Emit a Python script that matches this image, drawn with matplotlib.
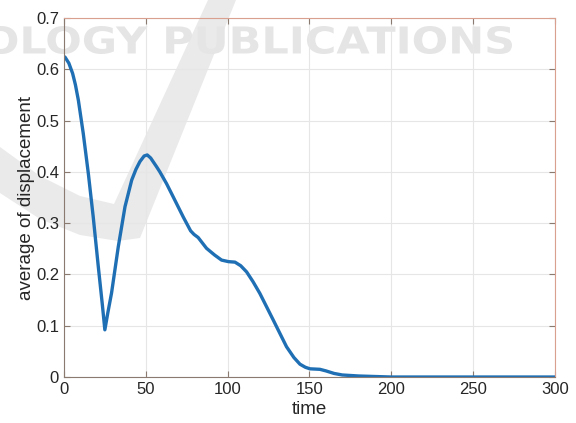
import numpy as np
import matplotlib.pyplot as plt
from matplotlib.patches import Polygon, PathPatch
from matplotlib.textpath import TextPath
from matplotlib.font_manager import FontProperties
from matplotlib.transforms import Affine2D

# curve
time = [0.6, 3.0, 5.3, 7.0, 8.8, 11.8, 14.9, 17.9, 21.0, 23.5, 25.0, 26.8,
        29.1, 33.2, 37.3, 41.4, 44.0, 46.4, 49.0, 50.9, 53.0, 56.6, 58.6,
        62.7, 66.8, 72.9, 77.4, 79.5, 82.0, 87.1, 92.0, 96.3, 100.5, 104.5,
        108.0, 111.6, 115.5, 119.7, 127.9, 136.0, 140.5, 144.2, 147.5, 150.3,
        156.4, 160.0, 165.0, 170.0, 180.0, 190.0, 200.0, 250.0, 300.0]
displacement = [0.624, 0.612, 0.592, 0.57, 0.54, 0.475, 0.397, 0.312, 0.215,
                0.14, 0.092, 0.125, 0.164, 0.254, 0.332, 0.384, 0.405, 0.42,
                0.431, 0.433, 0.427, 0.41, 0.400, 0.377, 0.351, 0.312, 0.285,
                0.278, 0.272, 0.251, 0.238, 0.228, 0.225, 0.224, 0.217, 0.205,
                0.186, 0.163, 0.111, 0.059, 0.038, 0.025, 0.019, 0.016, 0.015,
                0.012, 0.007, 0.004, 0.002, 0.001, 0.0, 0.0, 0.0]

xticks = [0, 50, 100, 150, 200, 250, 300]
yticks = [0, 0.1, 0.2, 0.3, 0.4, 0.5, 0.6, 0.7]
ytick_labels = ['0', '0.1', '0.2', '0.3', '0.4', '0.5', '0.6', '0.7']

plt.rcParams['font.family'] = ['Liberation Sans', 'DejaVu Sans']

W, H = 576, 423
fig = plt.figure(figsize=(W / 100, H / 100), dpi=100)
ax = fig.add_axes([0.111, 0.1087, 0.8525, 0.8487])
ax.patch.set_alpha(0)


def px(pts):
    # pixel coords (from top-left) -> figure fraction
    return [[x / W, 1 - y / H] for x, y in pts]


# faint publisher watermark behind the axes
v_shape = [(208, 0), (236, 0), (140, 238), (118, 241), (80, 235), (40, 219),
           (0, 193), (0, 147), (40, 176), (80, 196), (114, 204)]
fig.patches.append(Polygon(px(v_shape), closed=True, transform=fig.transFigure,
                           fc='#eaeaea', ec='none', zorder=-5))

tp = TextPath((0, 0), 'OLOGY PUBLICATIONS', size=40,
              prop=FontProperties(family='DejaVu Sans', weight='bold'))
ext = tp.get_extents()
x0, x1, y0, y1 = -15, 512, 26, 54  # target box in pixels from top-left
sx = (x1 - x0) / ext.width
sy = (y1 - y0) / ext.height
tr = (Affine2D().translate(-ext.x0, -ext.y0).scale(sx, sy)
      .translate(x0 / W, 1 - y1 / H).scale(1, 1))
tr = Affine2D().translate(-ext.x0, -ext.y0).scale(sx / W, sy / H).translate(x0 / W, 1 - y1 / H)
fig.patches.append(PathPatch(tp, transform=tr + fig.transFigure,
                             fc='#e5e5e5', ec='none', zorder=-5))

ax.plot(time, displacement, color='#1f6fb4', lw=2.4, solid_joinstyle='round',
        solid_capstyle='round')

ax.set_xlim(0, 300)
ax.set_ylim(0, 0.7)
ax.set_xticks(xticks)
ax.set_yticks(yticks)
ax.set_yticklabels(ytick_labels)
ax.tick_params(direction='in', top=True, right=True, labelsize=12,
               color='#8a7a70', length=4, labelcolor='#262626')
ax.grid(True, color='#e6e6e6', lw=0.8)
ax.set_axisbelow(True)
for side in ['left', 'bottom']:
    ax.spines[side].set_color('#8a7a70')
for side in ['top', 'right']:
    ax.spines[side].set_color('#d9a090')

ax.set_xlabel('time', fontsize=13.5, labelpad=3, color='#262626')
ax.set_ylabel('average of displacement', fontsize=13.5, labelpad=1, color='#262626')

fig.savefig('out.png', dpi=100)
